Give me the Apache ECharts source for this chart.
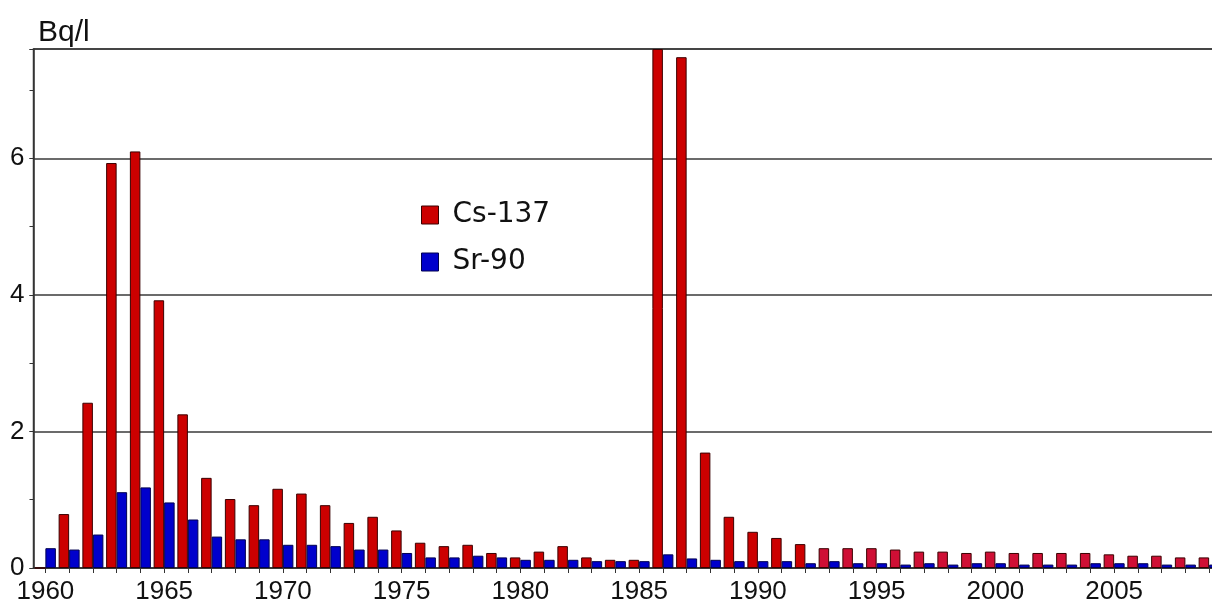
<!DOCTYPE html>
<html>
<head>
<meta charset="utf-8">
<script src="https://cdn.jsdelivr.net/npm/echarts@6/dist/echarts.min.js"></script>
<style>
html,body{margin:0;padding:0;background:#fff;}
#chart{width:1212px;height:606px;}
</style>
</head>
<body>
<div id="chart"></div>
<script>
const years = [];
for (let y = 1960; y <= 2009; y++) years.push(String(y));

const cs137 = [
  0, 0.79, 2.42, 5.93, 6.10, 3.92, 2.25, 1.32, 1.01, 0.92,
  1.16, 1.09, 0.92, 0.66, 0.75, 0.55, 0.37, 0.32, 0.34, 0.22,
  0.155, 0.24, 0.32, 0.155, 0.12, 0.12, 7.6, 7.48, 1.69, 0.75,
  0.53, 0.44, 0.35, 0.29, 0.29, 0.29, 0.27, 0.24, 0.24, 0.22,
  0.24, 0.22, 0.22, 0.22, 0.22, 0.20, 0.18, 0.18, 0.155, 0.155
];
const sr90 = [
  0.29, 0.27, 0.49, 1.11, 1.18, 0.96, 0.71, 0.46, 0.42, 0.42,
  0.34, 0.34, 0.32, 0.27, 0.27, 0.22, 0.155, 0.155, 0.18, 0.155,
  0.12, 0.12, 0.12, 0.10, 0.10, 0.10, 0.20, 0.14, 0.12, 0.10,
  0.10, 0.10, 0.07, 0.10, 0.07, 0.07, 0.05, 0.07, 0.05, 0.07,
  0.07, 0.05, 0.05, 0.05, 0.07, 0.07, 0.07, 0.05, 0.05, 0.05
];
const yTickLabels = ['0', '2', '4', '6'];
const unitLabel = 'Bq/l';
const seriesNames = ['Cs-137', 'Sr-90'];

const RED = '#cc0000', RED_LATE = '#cf0f35', BLUE = '#0000cc';
const labelFont = '"Liberation Sans", Arial, sans-serif';

const chart = echarts.init(document.getElementById('chart'), null, {renderer: 'canvas'});
chart.setOption({
  animation: false,
  backgroundColor: '#ffffff',
  grid: {
    left: 33.5, right: -9, top: 49, bottom: 38,
    containLabel: false, outerBoundsMode: 'none',
    show: true, borderColor: '#3a3a3a', borderWidth: 1.5, backgroundColor: 'transparent'
  },
  graphic: [{
    type: 'text', left: 38, top: 18,
    style: {text: unitLabel, font: '30px "Liberation Sans", Arial, sans-serif', fill: '#111'}
  }],
  legend: {
    orient: 'vertical', left: 421, top: 201, padding: 0,
    itemWidth: 17, itemHeight: 18, itemGap: 19, icon: 'rect',
    textStyle: {fontFamily: '"DejaVu Sans", Verdana, sans-serif', fontSize: 28, lineHeight: 28, color: '#111', padding: [0, 0, 0, 9]},
    data: [
      {name: seriesNames[0], itemStyle: {color: RED, borderColor: '#3a0000', borderWidth: 1}},
      {name: seriesNames[1], itemStyle: {color: BLUE, borderColor: '#000050', borderWidth: 1}}
    ]
  },
  xAxis: {
    type: 'category', data: years,
    axisLine: {lineStyle: {color: '#333', width: 1.5}},
    axisTick: {show: true, interval: 0, alignWithLabel: true, length: 5, lineStyle: {color: '#333'}},
    axisLabel: {interval: 4, fontFamily: labelFont, fontSize: 26, color: '#111', margin: 11},
    splitLine: {show: false}
  },
  yAxis: [{
    type: 'value', min: 0, max: 7.6, interval: 2,
    axisLine: {show: true, lineStyle: {color: '#333', width: 1.5}},
    axisTick: {show: true, length: 4, lineStyle: {color: '#333'}},
    axisLabel: {
      fontFamily: labelFont, fontSize: 26, color: '#111', margin: 9,
      formatter: function (v) { const i = yTickLabels.indexOf(String(v)); return i >= 0 ? yTickLabels[i] : ''; }
    },
    splitLine: {show: true, lineStyle: {color: '#3a3a3a', width: 1.5}}
  }, {
    type: 'value', min: 0, max: 7.6, interval: 1, position: 'left',
    axisLine: {show: false},
    axisTick: {show: true, length: 4, lineStyle: {color: '#333'}},
    axisLabel: {show: false},
    splitLine: {show: false}
  }],
  series: [{
    name: seriesNames[0], type: 'bar', data: cs137,
    barWidth: 10.5, barGap: '0%',
    itemStyle: {
      color: function (p) { return Number(years[p.dataIndex]) >= 1993 ? RED_LATE : RED; },
      borderColor: '#3a0000', borderWidth: 1
    }
  }, {
    name: seriesNames[1], type: 'bar', data: sr90,
    barWidth: 10.5, barGap: '0%',
    itemStyle: {color: BLUE, borderColor: '#000050', borderWidth: 1}
  }]
});
</script>
</body>
</html>
